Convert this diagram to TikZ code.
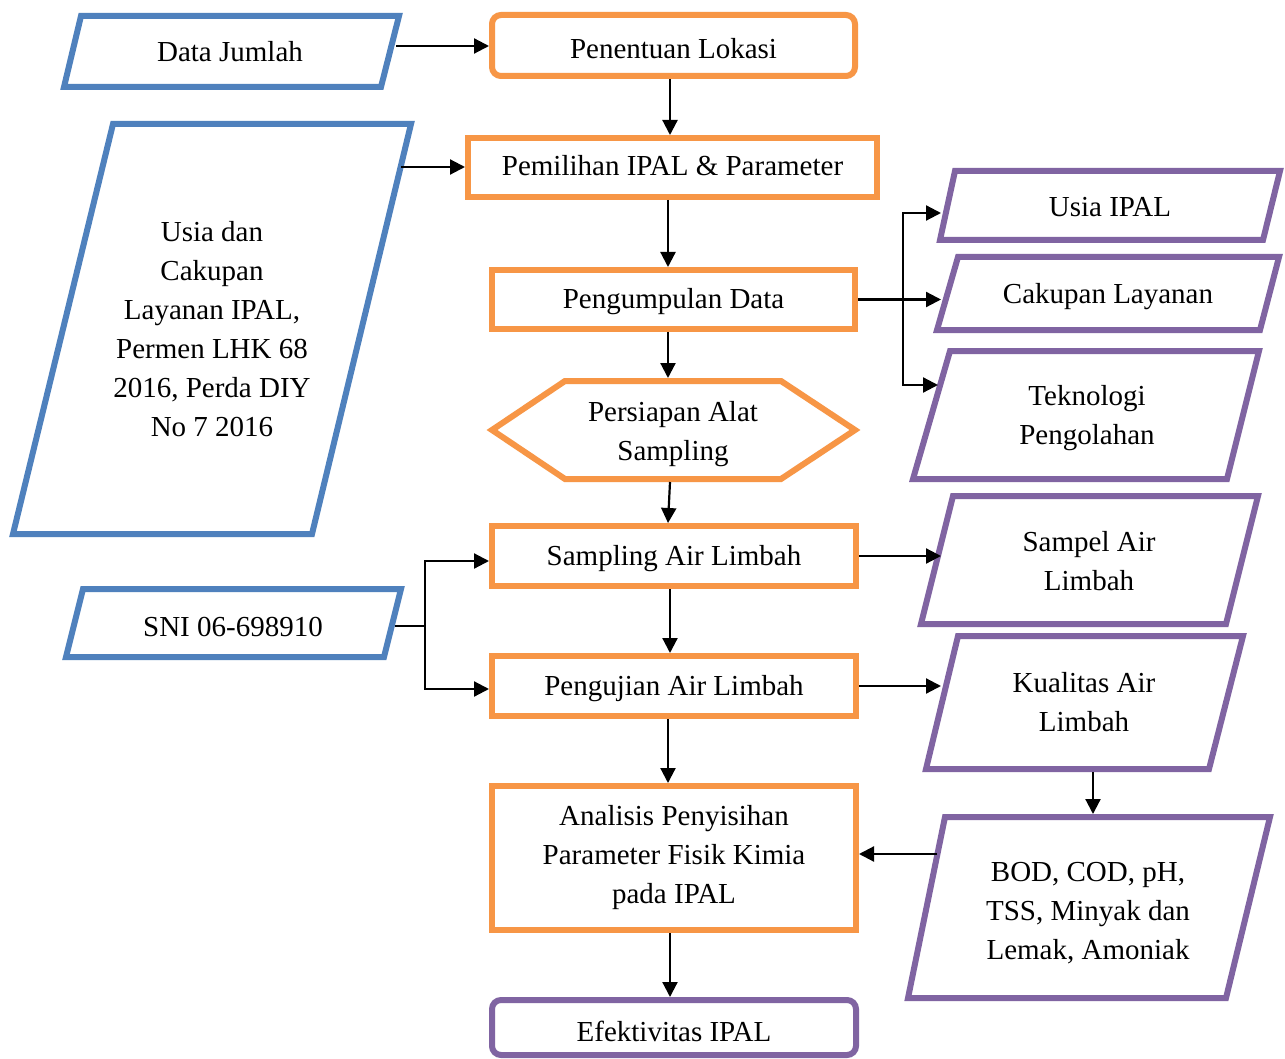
\documentclass[tikz,border=0pt]{standalone}
\usepackage{fontspec}
\setmainfont{Liberation Serif}
\usetikzlibrary{arrows.meta,calc}
\definecolor{cblue}{HTML}{4F81BD}
\definecolor{corange}{HTML}{F79646}
\definecolor{cpurple}{HTML}{8064A2}
\begin{document}
\begin{tikzpicture}[x=1pt,y=-1pt,
  txt/.style={font=\fontsize{29}{39}\selectfont, align=center, inner sep=0pt, outer sep=0pt},
  obox/.style={draw=corange, line width=6pt, inner sep=0pt, minimum width=364pt, font=\fontsize{29}{39}\selectfont, align=center},
  one/.style={text height=21pt, text depth=3pt},
  shpb/.style={draw=cblue, line width=6pt, line join=miter},
  shpp/.style={draw=cpurple, line width=6pt, line join=miter},
  shpo/.style={draw=corange, line width=6pt, line join=miter},
  arr/.style={line width=2.2pt, -{Triangle[length=15pt,width=15pt]}},
  ln/.style={line width=2.2pt}
]
\fill[white] (0,0) rectangle (1285,1059);
\useasboundingbox (0,0) rectangle (1285,1059);

% central column
\node[obox, rounded corners=9pt, minimum width=363pt, minimum height=61pt, text height=25.6pt, text depth=0pt] (pen) at (673.5,45.5) {Penentuan Lokasi};
\node[obox, minimum width=409pt, minimum height=59pt, text height=20pt, text depth=3pt] (pem) at (672.5,167.5) {Pemilihan IPAL \& Parameter};
\node[obox, one, minimum width=363pt, minimum height=59pt] (pgd) at (673.5,299.5) {Pengumpulan Data};
\node[obox, one, minimum height=60pt] (samp) at (674,556) {Sampling Air Limbah};
\node[obox, one, minimum height=60pt] (uji) at (674,686) {Pengujian Air Limbah};
\node[obox, minimum height=144pt] (anal) at (674,858) {Analisis Penyisihan\\Parameter Fisik Kimia\\pada IPAL};
\node[obox, draw=cpurple, rounded corners=9pt, minimum height=55pt, text height=28pt, text depth=0pt] (efek) at (674,1027.5) {Efektivitas IPAL};

% hexagon
\draw[shpo] (492,430) -- (565,381) -- (781,381) -- (855,430) -- (781,479) -- (565,479) -- cycle;
\node[txt] (prs) at (673,434) {Persiapan Alat\\Sampling};

% blue parallelograms
\draw[shpb] (81,16) -- (399,16) -- (381,87) -- (64,87) -- cycle;
\node[txt, anchor=base] (dj) at (230,62) {Data Jumlah};
\draw[shpb] (113,124) -- (411,124) -- (312,534) -- (13,534) -- cycle;
\node[txt] (ucl) at (212,329.5) {Usia dan\\Cakupan\\Layanan IPAL,\\Permen LHK 68\\2016, Perda DIY\\No 7 2016};
\draw[shpb] (83,589) -- (401,589) -- (384,657) -- (66,657) -- cycle;
\node[txt, anchor=base] (sni) at (233,636) {SNI 06-698910};

% purple parallelograms
\draw[shpp] (955,171) -- (1280,171) -- (1263,240) -- (940,240) -- cycle;
\node[txt, anchor=base] (usia) at (1110,217) {Usia IPAL};
\draw[shpp] (958,257) -- (1279,257) -- (1260,330) -- (937,330) -- cycle;
\node[txt, anchor=base] (cak) at (1108,304) {Cakupan Layanan};
\draw[shpp] (950,351) -- (1259,351) -- (1227,479) -- (913,479) -- cycle;
\node[txt] (tek) at (1087,418) {Teknologi\\Pengolahan};
\draw[shpp] (953,496) -- (1258,496) -- (1226,624) -- (921,624) -- cycle;
\node[txt] (sam) at (1089,561.5) {Sampel Air\\Limbah};
\draw[shpp] (958,636) -- (1243,636) -- (1209,769) -- (926,769) -- cycle;
\node[txt] (kual) at (1084,702) {Kualitas Air\\Limbah};
\draw[shpp] (945,817) -- (1270,817) -- (1226,998) -- (908,998) -- cycle;
\node[txt] (bod) at (1088,913) {BOD, COD, pH,\\TSS, Minyak dan\\Lemak, Amoniak};

% connector end points on the drawn outlines
\coordinate (djE) at (396,46);
\coordinate (uclE) at (401,167);
\coordinate (prsT) at (668,378);
\coordinate (prsB) at (670,482);
\coordinate (fanM) at (903,299.5);
\coordinate (usiaIn) at (941,213);
\coordinate (cakIn) at (941,299.5);
\coordinate (tekIn) at (938,385);
\coordinate (samIn) at (941,555);
\coordinate (kualIn) at (941,687);
\coordinate (sniE) at (395,626);
\coordinate (sniJ) at (425,626);
\coordinate (kualB) at (1093,772);
\coordinate (bodT) at (1093,814);
\coordinate (bodW) at (937,854);

% connectors
\draw[arr] (djE) -- (djE -| pen.west);
\draw[arr] (uclE) -- (uclE -| pem.west);
\draw[arr] ([xshift=-3.5pt]pen.south) -- ([xshift=-3.5pt]pen.south |- pem.north);
\draw[arr] ([xshift=-4.5pt]pem.south) -- ([xshift=-4.5pt]pem.south |- pgd.north);
\draw[arr] (pgd.south -| prsT) -- (prsT);
\draw[arr] (prsB) -- ([xshift=-6pt]samp.north);
\draw[arr] ([xshift=-4pt]samp.south) -- ([xshift=-4pt]samp.south |- uji.north);
\draw[arr] ([xshift=-6pt]uji.south) -- ([xshift=-6pt]uji.south |- anal.north);
\draw[arr] ([xshift=-4pt]anal.south) -- ([xshift=-4pt]anal.south |- efek.north);

\draw[arr] (pgd.east) -- (cakIn);
\draw[arr] (fanM) |- (usiaIn);
\draw[arr] (fanM) |- (tekIn);

\draw[arr] (samp.east) -- (samp.east -| samIn);
\draw[arr] (uji.east) -- (uji.east -| kualIn);

\draw[ln] (sniE) -- (sniJ);
\draw[arr] (sniJ) |- ([yshift=-5pt]samp.west);
\draw[arr] (sniJ) |- ([yshift=-3pt]uji.west);

\draw[arr] (kualB) -- (bodT);
\draw[arr] (bodW) -- (bodW -| anal.east);
\end{tikzpicture}
\end{document}
